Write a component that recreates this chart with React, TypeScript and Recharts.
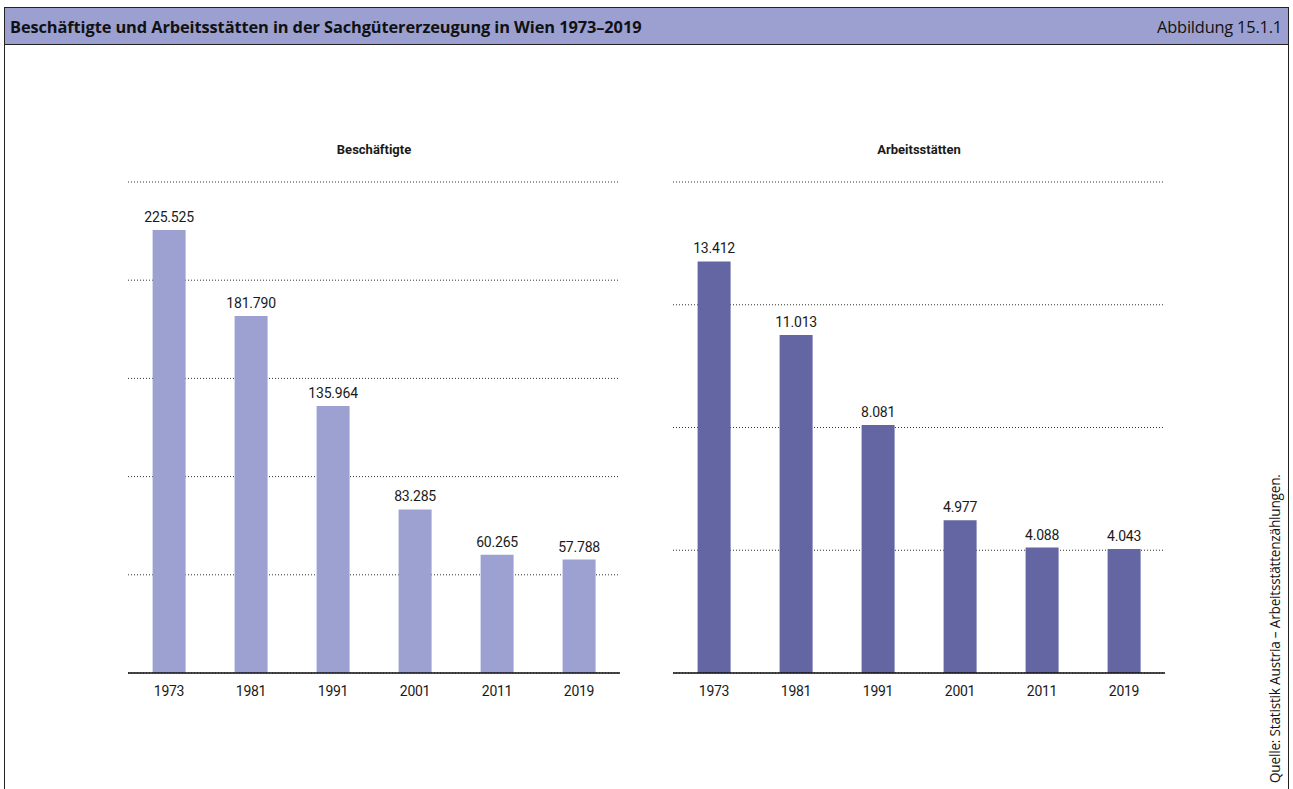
import { BarChart, Bar, XAxis, YAxis, CartesianGrid, LabelList } from "recharts";

const years = ["1973", "1981", "1991", "2001", "2011", "2019"];
const employees = [225525, 181790, 135964, 83285, 60265, 57788];
const workplaces = [13412, 11013, 8081, 4977, 4088, 4043];

const employeeTicks = [0, 50000, 100000, 150000, 200000, 250000];
const workplaceTicks = [0, 4000, 8000, 12000, 16000];

const FONT = "'Liberation Sans Narrow', 'Roboto', sans-serif";
const HEAD_FONT = "'Open Sans', 'Noto Sans', sans-serif";

// 225525 -> "225.525"
const fmt = (v: any) =>
  String(Math.round(Number(v))).replace(/\B(?=(\d{3})+(?!\d))/g, ".");

interface PanelProps {
  title: string;
  values: number[];
  ticks: number[];
  color: string;
  left: number;
}

function Panel({ title, values, ticks, color, left }: PanelProps) {
  const data = years.map((y, i) => ({ year: y, value: values[i] }));
  return (
    <div style={{ position: "absolute", left, top: 130, width: 532, height: 583 }}>
      <div
        style={{
          position: "absolute",
          left: 20,
          width: 492,
          top: 12,
          textAlign: "center",
          fontFamily: FONT,
          fontWeight: 700,
          fontSize: 13,
          color: "#1a1a1a",
        }}
      >
        {title}
      </div>
      <BarChart
        width={532}
        height={583}
        data={data}
        margin={{ top: 52, right: 20, bottom: 10, left: 20 }}
        barCategoryGap="30%"
      >
        <CartesianGrid
          vertical={false}
          stroke="#333"
          strokeDasharray="1 2"
          strokeWidth={1}
        />
        <YAxis hide domain={[0, ticks[ticks.length - 1]]} ticks={ticks} />
        <XAxis
          dataKey="year"
          height={30}
          tickLine={false}
          axisLine={{ stroke: "#111", strokeWidth: 1.5 }}
          tick={{ fill: "#1a1a1a", fontSize: 14, fontFamily: FONT, letterSpacing: -0.3 }}
          tickMargin={7}
        />
        <Bar dataKey="value" fill={color} isAnimationActive={false}>
          <LabelList
            dataKey="value"
            position="top"
            offset={8}
            formatter={fmt}
            style={{ fill: "#1a1a1a", fontSize: 14, fontFamily: FONT, letterSpacing: -0.2 }}
          />
        </Bar>
      </BarChart>
    </div>
  );
}

export default function App() {
  return (
    <div
      style={{
        position: "absolute",
        left: 0,
        top: 0,
        width: 1293,
        height: 789,
        overflow: "hidden",
        background: "#fff",
      }}
    >
      <div
        style={{
          position: "absolute",
          left: 4,
          top: 7,
          width: 1285,
          height: 800,
          border: "1.5px solid #222",
          boxSizing: "border-box",
        }}
      />
      <div
        style={{
          position: "absolute",
          left: 4,
          top: 7,
          width: 1285,
          height: 38,
          background: "#9ba0d0",
          border: "1.5px solid #222",
          boxSizing: "border-box",
          fontFamily: HEAD_FONT,
          fontSize: 16.4,
          color: "#111",
          display: "flex",
          alignItems: "center",
          justifyContent: "space-between",
          padding: "1px 6px 0 5px",
        }}
      >
        <span style={{ fontWeight: 700, letterSpacing: -0.1 }}>
          Beschäftigte und Arbeitsstätten in der Sachgütererzeugung in Wien 1973–2019
        </span>
        <span style={{ letterSpacing: -0.2 }}>Abbildung 15.1.1</span>
      </div>

      <Panel title="Beschäftigte" values={employees} ticks={employeeTicks} color="#9ca1d1" left={108} />
      <Panel title="Arbeitsstätten" values={workplaces} ticks={workplaceTicks} color="#6466a3" left={653} />

      <div
        style={{
          position: "absolute",
          left: 1267,
          top: 783,
          transform: "rotate(-90deg)",
          transformOrigin: "0 0",
          whiteSpace: "nowrap",
          fontFamily: HEAD_FONT,
          fontSize: 13.6,
          color: "#111",
          lineHeight: "16px",
          letterSpacing: -0.2,
        }}
      >
        Quelle: Statistik Austria – Arbeitsstättenzählungen.
      </div>
    </div>
  );
}
